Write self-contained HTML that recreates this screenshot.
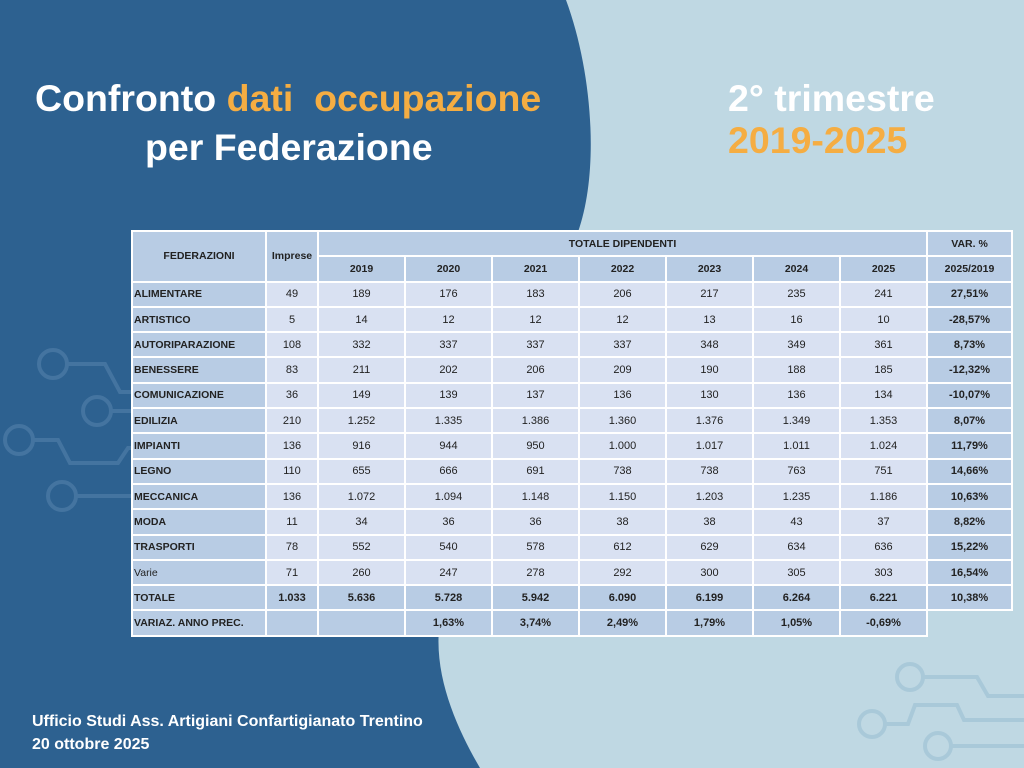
<!DOCTYPE html>
<html><head><meta charset="utf-8"><style>
body{margin:0;width:1024px;height:768px;overflow:hidden;background:#bfd8e3;font-family:"Liberation Sans",sans-serif;position:relative}
svg.bg{position:absolute;left:0;top:0}
.t{position:absolute;font-weight:bold;color:#fff;white-space:nowrap}
.o{color:#f5ad42}
table{position:absolute;left:131px;top:230px;border-collapse:collapse;table-layout:fixed;font-size:11px;color:#222}
tr{height:25.3px}
td{border:2px solid #fff;padding:0;text-align:center;background:#d9e1f2}
td.h{background:#b8cce4;font-weight:bold;font-size:10.5px}
td.f{background:#b8cce4;font-weight:bold;text-align:left;padding-left:1px;font-size:10.5px}
td.v{background:#b8cce4;font-weight:bold}
tr.tot td{background:#b8cce4;font-weight:bold}
tr.tot td.e{background:transparent;border:none}
</style></head><body>
<svg class="bg" width="1024" height="768">
<path d="M0 0 L566 0 C592 70 600 170 578 232 L445 600 C425 660 455 725 480 768 L0 768 Z" fill="#2d6190"/>
<g fill="none" stroke="#4474a0" stroke-width="4">
<circle cx="53" cy="364" r="14"/><path d="M67 364 H105 L120 392 H140"/>
<circle cx="97" cy="411" r="14"/><path d="M111 411 H131"/>
<circle cx="19" cy="440" r="14"/><path d="M33 440 H58 L70 463 H118 L128 448 H131"/>
<circle cx="62" cy="496" r="14"/><path d="M76 496 H131"/>
</g>
<g fill="none" stroke="#a9c9d9" stroke-width="4">
<circle cx="910" cy="677" r="13"/><path d="M923 677 H977 L988 696 H1024"/>
<circle cx="872" cy="724" r="13"/><path d="M885 724 H908 L915 705 H957 L964 720 H1024"/>
<circle cx="938" cy="746" r="13"/><path d="M951 746 H1024"/>
</g>
</svg>
<div class="t" style="left:35px;top:77px;font-size:37.5px">Confronto <span class="o">dati&nbsp; occupazione</span></div>
<div class="t" style="left:145px;top:126px;font-size:37.5px">per Federazione</div>
<div class="t" style="left:728px;top:77px;font-size:37.5px">2° trimestre</div>
<div class="t o" style="left:728px;top:119px;font-size:37.5px">2019-2025</div>
<div class="t" style="left:32px;top:713px;font-size:16px">Ufficio Studi Ass. Artigiani Confartigianato Trentino</div>
<div class="t" style="left:32px;top:736px;font-size:16px">20 ottobre 2025</div>
<table>
<colgroup><col style="width:134px"><col style="width:52px"><col style="width:87px"><col style="width:87px"><col style="width:87px"><col style="width:87px"><col style="width:87px"><col style="width:87px"><col style="width:87px"><col style="width:85px"></colgroup>
<tr><td class="h" rowspan="2">FEDERAZIONI</td><td class="h" rowspan="2">Imprese</td><td class="h" colspan="7">TOTALE DIPENDENTI</td><td class="h">VAR. %</td></tr>
<tr><td class="h">2019</td><td class="h">2020</td><td class="h">2021</td><td class="h">2022</td><td class="h">2023</td><td class="h">2024</td><td class="h">2025</td><td class="h">2025/2019</td></tr>
<tr><td class="f">ALIMENTARE</td><td>49</td><td>189</td><td>176</td><td>183</td><td>206</td><td>217</td><td>235</td><td>241</td><td class="v">27,51%</td></tr>
<tr><td class="f">ARTISTICO</td><td>5</td><td>14</td><td>12</td><td>12</td><td>12</td><td>13</td><td>16</td><td>10</td><td class="v">-28,57%</td></tr>
<tr><td class="f">AUTORIPARAZIONE</td><td>108</td><td>332</td><td>337</td><td>337</td><td>337</td><td>348</td><td>349</td><td>361</td><td class="v">8,73%</td></tr>
<tr><td class="f">BENESSERE</td><td>83</td><td>211</td><td>202</td><td>206</td><td>209</td><td>190</td><td>188</td><td>185</td><td class="v">-12,32%</td></tr>
<tr><td class="f">COMUNICAZIONE</td><td>36</td><td>149</td><td>139</td><td>137</td><td>136</td><td>130</td><td>136</td><td>134</td><td class="v">-10,07%</td></tr>
<tr><td class="f">EDILIZIA</td><td>210</td><td>1.252</td><td>1.335</td><td>1.386</td><td>1.360</td><td>1.376</td><td>1.349</td><td>1.353</td><td class="v">8,07%</td></tr>
<tr><td class="f">IMPIANTI</td><td>136</td><td>916</td><td>944</td><td>950</td><td>1.000</td><td>1.017</td><td>1.011</td><td>1.024</td><td class="v">11,79%</td></tr>
<tr><td class="f">LEGNO</td><td>110</td><td>655</td><td>666</td><td>691</td><td>738</td><td>738</td><td>763</td><td>751</td><td class="v">14,66%</td></tr>
<tr><td class="f">MECCANICA</td><td>136</td><td>1.072</td><td>1.094</td><td>1.148</td><td>1.150</td><td>1.203</td><td>1.235</td><td>1.186</td><td class="v">10,63%</td></tr>
<tr><td class="f">MODA</td><td>11</td><td>34</td><td>36</td><td>36</td><td>38</td><td>38</td><td>43</td><td>37</td><td class="v">8,82%</td></tr>
<tr><td class="f">TRASPORTI</td><td>78</td><td>552</td><td>540</td><td>578</td><td>612</td><td>629</td><td>634</td><td>636</td><td class="v">15,22%</td></tr>
<tr><td class="f" style="font-weight:normal">Varie</td><td>71</td><td>260</td><td>247</td><td>278</td><td>292</td><td>300</td><td>305</td><td>303</td><td class="v">16,54%</td></tr>
<tr class="tot"><td class="f">TOTALE</td><td>1.033</td><td>5.636</td><td>5.728</td><td>5.942</td><td>6.090</td><td>6.199</td><td>6.264</td><td>6.221</td><td>10,38%</td></tr>
<tr class="tot"><td class="f">VARIAZ. ANNO PREC.</td><td></td><td></td><td>1,63%</td><td>3,74%</td><td>2,49%</td><td>1,79%</td><td>1,05%</td><td>-0,69%</td><td class="e"></td></tr>
</table>
</body></html>
